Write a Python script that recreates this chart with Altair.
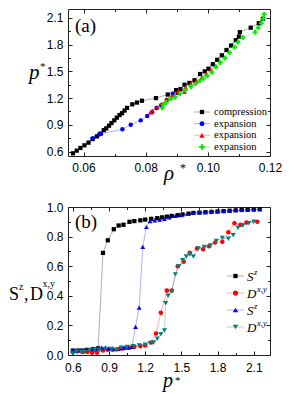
import altair as alt
import pandas as pd

# ---------------- Panel (a): p* vs rho* ----------------
rho_comp = [0.0566, 0.0578, 0.0590, 0.0603, 0.0616, 0.0629, 0.0643, 0.0654, 0.0665, 0.0673,
            0.0682, 0.0690, 0.0699, 0.0707, 0.0716, 0.0724, 0.0732, 0.0740, 0.0757, 0.0772,
            0.0788, 0.0833, 0.0871, 0.0898, 0.0903, 0.0912, 0.0925, 0.0941, 0.0957, 0.0975,
            0.0990, 0.1002, 0.1016, 0.1030, 0.1045, 0.1060, 0.1075, 0.1090, 0.1100, 0.1103,
            0.1138, 0.1164, 0.1177]
p_comp = [0.58, 0.61, 0.64, 0.67, 0.70, 0.74, 0.77, 0.80, 0.84, 0.86,
          0.89, 0.92, 0.95, 0.98, 1.01, 1.03, 1.06, 1.09, 1.13, 1.15,
          1.17, 1.20, 1.24, 1.29, 1.26, 1.30, 1.35, 1.37, 1.40, 1.47,
          1.50, 1.53, 1.58, 1.63, 1.68, 1.74, 1.79, 1.85, 1.89, 1.94,
          1.99, 2.04, 2.09]

rho_exp1 = [0.0630, 0.0650, 0.0656, 0.0725, 0.0752, 0.0784, 0.0805, 0.0820, 0.0835, 0.0850,
            0.0868, 0.0887]
p_exp1 = [0.75, 0.79, 0.80, 0.85, 0.90, 0.95, 1.00, 1.04, 1.09, 1.12,
          1.18, 1.25]

rho_exp2 = [0.0815, 0.0822, 0.0838, 0.0852, 0.0868, 0.0885, 0.0905, 0.0925, 0.0928, 0.0945,
            0.0962, 0.0980, 0.0995, 0.1010, 0.1025]
p_exp2 = [1.04, 1.06, 1.10, 1.14, 1.19, 1.23, 1.28, 1.27, 1.32, 1.36,
          1.39, 1.43, 1.47, 1.52, 1.56]

rho_exp3 = [0.0853, 0.0858, 0.0866, 0.0880, 0.0895, 0.0910, 0.0928, 0.0946, 0.0960, 0.0973,
            0.0985, 0.0998, 0.1013, 0.1026, 0.1040, 0.1055, 0.1070, 0.1086, 0.1097, 0.1113,
            0.1152, 0.1162, 0.1172, 0.1178, 0.1181]
p_exp3 = [1.09, 1.13, 1.15, 1.19, 1.21, 1.25, 1.29, 1.33, 1.36, 1.39,
          1.42, 1.45, 1.49, 1.55, 1.60, 1.65, 1.71, 1.77, 1.83, 1.88,
          1.94, 1.99, 2.04, 2.09, 2.14]

series_a = ["compression", "expansion1", "expansion2", "expansion3"]
labels_a = ["compression", "expansion", "expansion", "expansion"]
colors_a = ["#000000", "#0000FF", "#FF0000", "#00EE00"]
shapes_a = ["square", "circle", "triangle-up", "cross"]
sizes_a = [18, 24, 30, 30]

xa_major = [0.06, 0.08, 0.10, 0.12]
xa_minor = [0.07, 0.09, 0.11]
ya_major = [0.6, 0.9, 1.2, 1.5, 1.8, 2.1]
ya_minor = [0.75, 1.05, 1.35, 1.65, 1.95]

# ---------------- Panel (b): order parameters vs p* ----------------
p_sz1 = [0.60, 0.64, 0.68, 0.72, 0.77, 0.81, 0.85, 0.89, 0.94, 0.98,
         1.02, 1.07, 1.11, 1.16, 1.20, 1.25, 1.30, 1.34, 1.38, 1.42,
         1.47, 1.51, 1.56, 1.60, 1.65, 1.70, 1.75, 1.80, 1.85, 1.90,
         1.95, 2.00, 2.05, 2.10, 2.15]
v_sz1 = [0.030, 0.030, 0.030, 0.035, 0.040, 0.045, 0.690, 0.775, 0.850, 0.875,
         0.880, 0.900, 0.905, 0.910, 0.915, 0.920, 0.925, 0.930, 0.935, 0.940,
         0.945, 0.950, 0.955, 0.960, 0.962, 0.965, 0.967, 0.970, 0.972, 0.975,
         0.977, 0.980, 0.981, 0.983, 0.985]

p_d1 = [0.60, 0.64, 0.68, 0.72, 0.76, 0.80, 0.85, 0.89, 0.93, 0.98,
        1.02, 1.07, 1.11, 1.16, 1.20, 1.25, 1.29, 1.33, 1.38, 1.42,
        1.47, 1.52, 1.57, 1.63, 1.68, 1.73, 1.78, 1.84, 1.89, 1.94,
        1.99, 2.04, 2.13]
v_d1 = [0.020, 0.025, 0.020, 0.020, 0.015, 0.015, 0.030, 0.035, 0.035, 0.040,
        0.045, 0.050, 0.055, 0.060, 0.065, 0.085, 0.145, 0.285, 0.435, 0.435,
        0.600, 0.630, 0.690, 0.720, 0.715, 0.735, 0.760, 0.765, 0.830, 0.890,
        0.880, 0.895, 0.900]

p_sz2 = [0.60, 0.63, 0.66, 0.70, 0.75, 0.78, 0.81, 0.84, 0.87, 0.90,
         0.93, 0.96, 1.00, 1.03, 1.06, 1.09, 1.12, 1.15, 1.18, 1.21,
         1.24, 1.28, 1.32, 1.36, 1.40, 1.45, 1.50, 1.55, 1.60, 1.65,
         1.70, 1.75, 1.80, 1.85, 1.90, 1.95, 2.00, 2.05, 2.10, 2.15]
v_sz2 = [0.030, 0.030, 0.035, 0.035, 0.040, 0.040, 0.045, 0.050, 0.050, 0.045,
         0.045, 0.040, 0.045, 0.050, 0.050, 0.055, 0.190, 0.320, 0.730, 0.865,
         0.905, 0.910, 0.915, 0.920, 0.930, 0.940, 0.945, 0.955, 0.960, 0.965,
         0.965, 0.970, 0.970, 0.975, 0.975, 0.980, 0.980, 0.982, 0.985, 0.985]

p_d2 = [0.60, 0.63, 0.67, 0.70, 0.74, 0.78, 0.82, 0.87, 0.92, 0.96,
        1.00, 1.05, 1.10, 1.15, 1.20, 1.24, 1.27, 1.30, 1.33, 1.36,
        1.37, 1.39, 1.42, 1.45, 1.48, 1.51, 1.54, 1.57, 1.60, 1.64,
        1.69, 1.74, 1.79, 1.84, 1.89, 1.93, 1.97, 2.01, 2.06, 2.10]
v_d2 = [0.010, 0.020, 0.020, 0.020, 0.030, 0.035, 0.035, 0.040, 0.040, 0.035,
        0.050, 0.055, 0.060, 0.065, 0.070, 0.080, 0.085, 0.110, 0.140, 0.165,
        0.350, 0.400, 0.430, 0.545, 0.600, 0.640, 0.665, 0.680, 0.665, 0.720,
        0.730, 0.740, 0.770, 0.790, 0.785, 0.810, 0.860, 0.875, 0.890, 0.900]

series_b = ["Sz_c", "Dxy_c", "Sz_e", "Dxy_e"]
legend_main_b = ["S", "D", "S", "D"]
legend_sup_b = ["z", "x,y", "z", "x,y"]
colors_b = ["#000000", "#FF0000", "#0000FF", "#008080"]
shapes_b = ["square", "circle", "triangle-up", "triangle-down"]
sizes_b = [18, 26, 30, 30]

xb_major = [0.6, 0.9, 1.2, 1.5, 1.8, 2.1]
xb_minor = [0.75, 1.05, 1.35, 1.65, 1.95]
yb_major = [0.0, 0.2, 0.4, 0.6, 0.8, 1.0]
yb_minor = [0.1, 0.3, 0.5, 0.7, 0.9]

# ---------------- style ----------------
FRAME = "#222222"
SANS = "Liberation Sans"
SERIF = "Liberation Serif"
MAJ, MIN = 4.0, 2.5
W = 202


def long_df(names, xs_list, ys_list):
    rows = []
    for name, xs, ys in zip(names, xs_list, ys_list):
        for i, (x, y) in enumerate(zip(xs, ys)):
            rows.append({"series": name, "x": x, "y": y, "idx": i})
    return pd.DataFrame(rows)


def axis(orient, values, fmt=None, size=MAJ, pad=5):
    kw = dict(orient=orient, values=values, tickSize=size, offset=-size, domain=False,
              grid=False, ticks=True, tickColor=FRAME, tickWidth=1, title=None)
    if fmt:
        kw.update(labels=True, format=fmt, labelFont=SANS, labelFontSize=12,
                  labelColor="#000000", labelPadding=pad, labelFlush=False,
                  labelOverlap=False)
    else:
        kw.update(labels=False)
    return alt.Axis(**kw)


def text_layer(txt, x, y, size, style="normal", font=SERIF, align="left",
               baseline="alphabetic"):
    return alt.Chart(pd.DataFrame({"t": [txt]})).mark_text(
        font=font, fontSize=size, fontStyle=style, align=align, baseline=baseline,
        color="#000000").encode(x=alt.value(x), y=alt.value(y), text="t:N")


def panel(df, series, colors, shapes, sizes, xdom, ydom, xmaj, xmin, ymaj, ymin,
          xfmt, yfmt, H, xpad, ypad, extra):
    xs = alt.Scale(domain=xdom, nice=False, zero=False)
    ys = alt.Scale(domain=ydom, nice=False, zero=False)
    col = alt.Color("series:N", scale=alt.Scale(domain=series, range=colors), legend=None)
    shp = alt.Shape("series:N", scale=alt.Scale(domain=series, range=shapes), legend=None)
    siz = alt.Size("series:N", scale=alt.Scale(domain=series, range=sizes), legend=None)
    base = alt.Chart(df)
    lines = base.mark_line(strokeWidth=0.8, opacity=0.4).encode(
        x=alt.X("x:Q", scale=xs, axis=axis("bottom", xmaj, xfmt, pad=xpad)),
        y=alt.Y("y:Q", scale=ys, axis=axis("left", ymaj, yfmt, pad=ypad)),
        color=col, order="idx:Q")
    pts = base.mark_point(filled=True, opacity=1, strokeWidth=0).encode(
        x=alt.X("x:Q", scale=xs, axis=axis("bottom", xmin, size=MIN)),
        y=alt.Y("y:Q", scale=ys, axis=axis("left", ymin, size=MIN)),
        color=col, shape=shp, size=siz)
    g1 = base.mark_point(opacity=0).encode(
        x=alt.X("x:Q", scale=xs, axis=axis("top", xmaj)),
        y=alt.Y("y:Q", scale=ys, axis=axis("right", ymaj)))
    g2 = base.mark_point(opacity=0).encode(
        x=alt.X("x:Q", scale=xs, axis=axis("top", xmin, size=MIN)),
        y=alt.Y("y:Q", scale=ys, axis=axis("right", ymin, size=MIN)))
    return alt.layer(lines, pts, g1, g2, *extra).resolve_scale(
        x="independent", y="independent").resolve_axis(
        x="independent", y="independent").properties(width=W, height=H)


def legend_rows(labels, colors, shapes, ys, x_line0, x_line1, x_mark, x_text, msize,
                font_size, sups=None, sup_dx=None):
    out = []
    for i, lab in enumerate(labels):
        y = ys[i]
        d = pd.DataFrame({"t": [lab]})
        out.append(alt.Chart(d).mark_rule(color=colors[i], opacity=0.4, strokeWidth=0.8).encode(
            x=alt.value(x_line0), x2=alt.value(x_line1), y=alt.value(y)))
        out.append(alt.Chart(d).mark_point(shape=shapes[i], filled=True, color=colors[i],
                                           size=msize[i], opacity=1, strokeWidth=0).encode(
            x=alt.value(x_mark), y=alt.value(y)))
        if sups is None:
            out.append(text_layer(lab, x_text, y, font_size, baseline="middle"))
        else:
            out.append(text_layer(lab, x_text, y + 4.5, font_size, style="italic"))
            out.append(text_layer(sups[i], x_text + sup_dx[i], y - 1, 8.5, style="italic"))
    return out


# ---------------- panel (a) ----------------
df_a = long_df(series_a, [rho_comp, rho_exp1, rho_exp2, rho_exp3],
               [p_comp, p_exp1, p_exp2, p_exp3])
HA = 147
extra_a = [
    text_layer("(a)", 7, 23, 19),
    text_layer("p", -39, 70, 21, style="italic"),
    text_layer("*", -28, 61, 11),
    text_layer("ρ", 96, 171, 21, style="italic"),
    text_layer("*", 112, 163, 12),
] + legend_rows(labels_a, colors_a, shapes_a, [103, 114.7, 126.3, 138], 126, 142, 134, 146,
                sizes_a, 10.5)
chart_a = panel(df_a, series_a, colors_a, shapes_a, sizes_a, [0.055, 0.12], [0.55, 2.2],
                xa_major, xa_minor, ya_major, ya_minor, ".2f", ".1f", HA, 6, 5, extra_a)

# ---------------- panel (b) ----------------
df_b = long_df(series_b, [p_sz1, p_d1, p_sz2, p_d2], [v_sz1, v_d1, v_sz2, v_d2])
HB = 148
extra_b = [
    text_layer("(b)", 7, 21, 19),
    text_layer("S", -59, 93, 18),
    text_layer("z", -49, 83, 10),
    text_layer(",", -44, 93, 18),
    text_layer("D", -38, 93, 18),
    text_layer("x,y", -25.5, 80, 10),
    text_layer("p", 95, 180, 20, style="italic"),
    text_layer("*", 107, 177, 11),
] + legend_rows(legend_main_b, colors_b, shapes_b, [69, 86, 103, 120], 159, 176, 167.5, 179,
                sizes_b, 13, sups=legend_sup_b, sup_dx=[7, 10, 7, 10])
chart_b = panel(df_b, series_b, colors_b, shapes_b, sizes_b, [0.56, 2.235], [0.0, 1.0],
                xb_major, xb_minor, yb_major, yb_minor, ".1f", ".1f", HB, 7, 5, extra_b)

chart = alt.vconcat(chart_a, chart_b, spacing=15).resolve_scale(
    color="independent", shape="independent", size="independent"
).properties(
    padding={"left": 0, "top": 0, "right": 0, "bottom": 0}
).configure_view(stroke=FRAME, strokeWidth=1)

chart.save("out.html", embed_options={"renderer": "svg", "actions": False})
